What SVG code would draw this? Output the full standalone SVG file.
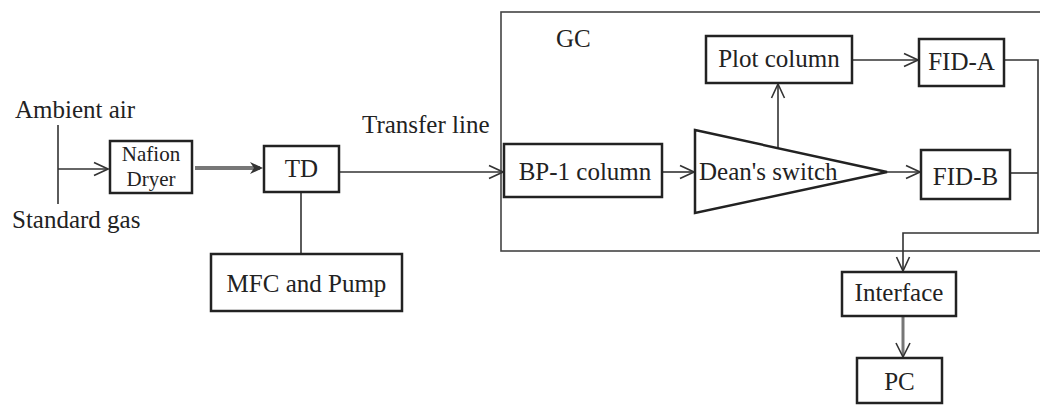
<svg xmlns="http://www.w3.org/2000/svg" width="1040" height="405" viewBox="0 0 1040 405">
<style>
  text { font-family: "Liberation Serif", "Times New Roman", serif; font-size: 25px; fill: #222; }
  .box { fill: #fff; stroke: #222; stroke-width: 2.5; }
  .gc { fill: none; stroke: #444; stroke-width: 1.6; }
  .ln { fill: none; stroke: #333; stroke-width: 1.6; }
  .thick { fill: none; stroke: #777; stroke-width: 4; }
  .mid { text-anchor: middle; }
</style>
<defs>
  <marker id="open" viewBox="0 0 16 16" refX="15" refY="8" markerWidth="16" markerHeight="16" markerUnits="userSpaceOnUse" orient="auto">
    <path d="M1,1.5 L15,8 L1,14.5" fill="none" stroke="#333" stroke-width="1.6"/>
  </marker>
</defs>

<g id="gc-frame">
  <rect class="gc" x="501" y="12" width="580" height="239"/>
  <text x="556" y="47">GC</text>
</g>

<g id="labels">
  <text x="15" y="118">Ambient air</text>
  <text x="12" y="228">Standard gas</text>
  <text x="362" y="133">Transfer line</text>
</g>

<g id="connectors">
  <line class="ln" x1="58" y1="125" x2="58" y2="204"/>
  <line class="ln" x1="58" y1="169" x2="108" y2="169" marker-end="url(#open)"/>
  <line class="thick" x1="195" y1="168" x2="260" y2="168"/>
  <path d="M250,162 L263,168 L250,174 L254,168 Z" fill="#333"/>
  <line class="ln" x1="301" y1="192" x2="301" y2="254"/>
  <line class="ln" x1="339" y1="172" x2="503" y2="172" marker-end="url(#open)"/>
  <line class="ln" x1="662" y1="172" x2="694" y2="172" marker-end="url(#open)"/>
  <line class="ln" x1="778" y1="148" x2="778" y2="84" marker-end="url(#open)"/>
  <line class="ln" x1="852" y1="60" x2="918" y2="60" marker-end="url(#open)"/>
  <line class="ln" x1="887" y1="172" x2="920" y2="172" marker-end="url(#open)"/>
  <polyline class="ln" points="1004,60 1038,60 1038,233 903,233 903,271" marker-end="url(#open)"/>
  <line class="ln" x1="1010" y1="173" x2="1038" y2="173"/>
  <line class="thick" x1="903" y1="316" x2="903" y2="355" style="stroke-width:3"/>
  <path d="M896,343 L903,357 L910,343" fill="none" stroke="#333" stroke-width="1.6"/>
</g>

<g id="nafion">
  <rect class="box" x="110" y="141" width="82" height="52"/>
  <text class="mid" x="151" y="161" style="font-size:21px">Nafion</text>
  <text class="mid" x="151" y="186" style="font-size:21px">Dryer</text>
</g>

<g id="td">
  <rect class="box" x="264" y="146" width="75" height="46"/>
  <text class="mid" x="301.5" y="177">TD</text>
</g>

<g id="mfc">
  <rect class="box" x="211" y="254" width="191" height="57"/>
  <text class="mid" x="306.5" y="292">MFC and Pump</text>
</g>

<g id="bp1">
  <rect class="box" x="504" y="144" width="158" height="53"/>
  <text class="mid" x="585" y="180">BP-1 column</text>
</g>

<g id="deans">
  <polygon points="695,130 887,172 695,213" fill="#fff" stroke="#222" stroke-width="2.5"/>
  <text x="699" y="180">Dean's switch</text>
</g>

<g id="plot">
  <rect class="box" x="706" y="36" width="146" height="47"/>
  <text class="mid" x="779" y="67">Plot column</text>
</g>

<g id="fida">
  <rect class="box" x="919" y="39" width="85" height="47"/>
  <text class="mid" x="961.5" y="70">FID-A</text>
</g>

<g id="fidb">
  <rect class="box" x="921" y="150" width="89" height="49"/>
  <text class="mid" x="965.5" y="185">FID-B</text>
</g>

<g id="interface">
  <rect class="box" x="842" y="272" width="114" height="44"/>
  <text class="mid" x="899" y="301">Interface</text>
</g>

<g id="pc">
  <rect class="box" x="857" y="358" width="85" height="45"/>
  <text class="mid" x="899.5" y="390">PC</text>
</g>
</svg>
